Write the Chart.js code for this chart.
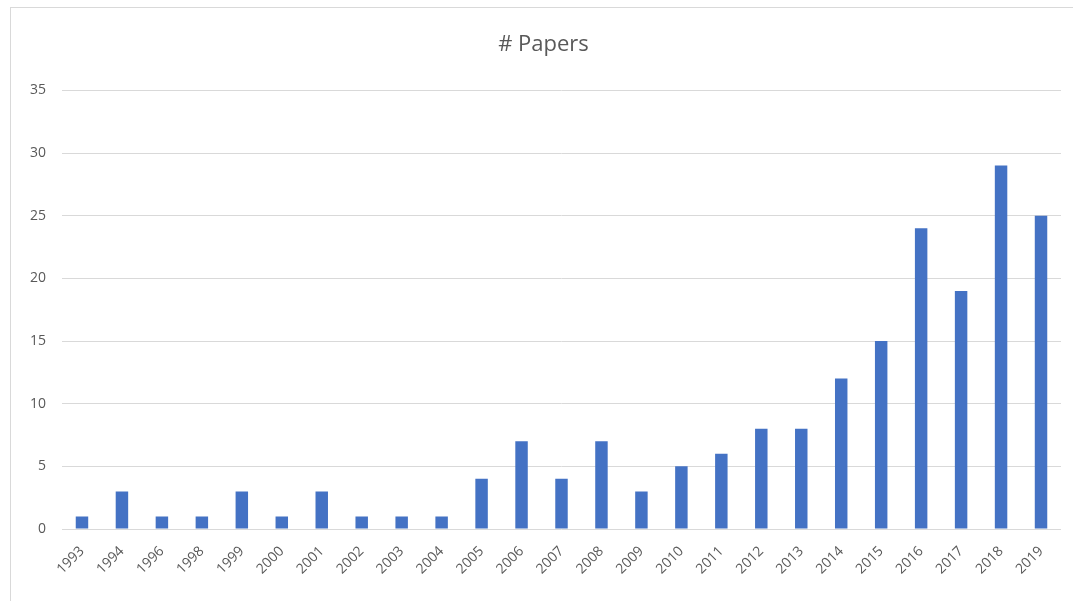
<!DOCTYPE html>
<html lang="en">
<head>
  <meta charset="UTF-8">
  <title># Papers</title>
  <script src="https://cdn.jsdelivr.net/npm/chart.js"></script>
  <style>
    html, body { margin: 0; padding: 0; background: #fff; }
    .wrap { position: relative; width: 1073px; height: 601px; overflow: hidden; }
    .frame {
      position: absolute; left: 10px; top: 7px; width: 1080px; height: 620px;
      border: 1px solid #d9d9d9; box-sizing: border-box;
    }
    canvas { position: absolute; left: 0; top: 0; }
  </style>
</head>
<body>
  <div class="wrap">
    <div class="frame"></div>
    <!-- chart runs past the right edge like the screenshot, so title sits a bit right of middle -->
    <canvas id="papersChart" width="1096" height="601"></canvas>
  </div>
  <script>
    // data
    const years = ['1993', '1994', '1996', '1998', '1999', '2000', '2001', '2002', '2003', '2004',
      '2005', '2006', '2007', '2008', '2009', '2010', '2011', '2012', '2013', '2014',
      '2015', '2016', '2017', '2018', '2019'];
    const papers = [1, 3, 1, 1, 3, 1, 3, 1, 1, 1, 4, 7, 4, 7, 3, 5, 6, 8, 8, 12, 15, 24, 19, 29, 25];
    const yTicks = [0, 5, 10, 15, 20, 25, 30, 35];

    const font = "'Open Sans', 'DejaVu Sans', sans-serif";

    new Chart(document.getElementById('papersChart'), {
      type: 'bar',
      data: {
        labels: years,
        datasets: [{
          label: '# Papers',
          data: papers,
          backgroundColor: '#4472C4',
          barPercentage: 0.78,
          categoryPercentage: 0.4
        }]
      },
      options: {
        responsive: false,
        animation: false,
        // side padding nudges the title right, as in the original
        layout: { padding: { left: 26, right: 35, top: 0, bottom: 0 } },
        plugins: {
          legend: { display: false },
          tooltip: { enabled: false },
          title: {
            display: true,
            text: '# Papers',
            color: '#595959',
            font: { family: font, size: 22, weight: 'normal' },
            padding: { top: 32, bottom: 32 }
          }
        },
        scales: {
          x: {
            grid: { display: false },
            border: { display: false },
            ticks: {
              color: '#595959',
              font: { family: font, size: 14 },
              minRotation: 45,
              maxRotation: 45,
              autoSkip: false,
              padding: 6
            },
            afterFit: s => { s.height = 72; }
          },
          y: {
            min: 0,
            max: 35,
            afterBuildTicks: s => { s.ticks = yTicks.map(v => ({ value: v })); },
            grid: { color: '#d9d9d9', drawTicks: false },
            border: { display: false },
            ticks: {
              color: '#595959',
              font: { family: font, size: 14 },
              padding: 16
            },
            afterFit: s => { s.width = 36; }
          }
        }
      }
    });
  </script>
</body>
</html>
